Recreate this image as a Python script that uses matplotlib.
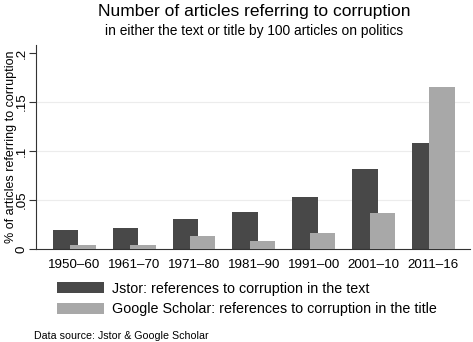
import matplotlib
matplotlib.use("Agg")
import matplotlib.pyplot as plt
import numpy as np

plt.rcParams['font.family'] = ['Liberation Sans', 'DejaVu Sans']

# data
periods = ['1950\u201360', '1961\u201370', '1971\u201380', '1981\u201390',
           '1991\u201300', '2001\u201310', '2011\u201316']
jstor = [0.019, 0.021, 0.0306, 0.0374, 0.053, 0.0813, 0.1078]
scholar = [0.0044, 0.0044, 0.013, 0.0085, 0.0163, 0.0367, 0.165]
yticks = [0, 0.05, 0.1, 0.15, 0.2]
ytick_labels = ['0', '.05', '.1', '.15', '.2']

dark = '#484848'
light = '#a8a8a8'

fig = plt.figure(figsize=(4.73, 3.42), dpi=100)
ax = fig.add_axes([0.0755, 0.272, 0.918, 0.596])

x = np.arange(len(periods))
w = 0.425
off = 0.145
b1 = ax.bar(x - off, jstor, w, color=dark, zorder=2,
            label='Jstor: references to corruption in the text')
b2 = ax.bar(x + off, scholar, w, color=light, zorder=3,
            label='Google Scholar: references to corruption in the title')

ax.set_xlim(-0.645, 6.61)
ax.set_ylim(0, 0.208)
ax.set_xticks(x)
ax.set_xticklabels(periods, fontsize=9.6)
ax.tick_params(axis='x', length=0, pad=7)
ax.set_yticks(yticks)
ax.set_yticklabels(ytick_labels, rotation=90, va='center', fontsize=9.6)
ax.tick_params(axis='y', length=5, width=0.8, color='#333333', pad=1)
for g in [0.05, 0.1, 0.15]:
    ax.axhline(g, color='#ececec', lw=0.8, zorder=0)

for s in ['top', 'right']:
    ax.spines[s].set_visible(False)
ax.spines['left'].set_color('#333333')
ax.spines['bottom'].set_color('#333333')
ax.spines['left'].set_linewidth(0.8)
ax.spines['bottom'].set_linewidth(0.8)

ax.set_ylabel('% of articles referring to corruption', fontsize=9.0, labelpad=-1)

fig.text(0.538, 0.953, 'Number of articles referring to corruption',
         ha='center', va='baseline', fontsize=12.5)
fig.text(0.538, 0.897, 'in either the text or title by 100 articles on politics',
         ha='center', va='baseline', fontsize=9.9)

fig.legend(handles=[b1, b2], loc='upper left', bbox_to_anchor=(0.121, 0.176),
           frameon=False, fontsize=10.3, handlelength=3.3, handleheight=0.82,
           handletextpad=0.55, labelspacing=0.45, borderaxespad=0, borderpad=0)

fig.text(0.0725, 0.01, 'Data source: Jstor & Google Scholar', fontsize=7.7,
         ha='left', va='baseline')

plt.savefig('out.png', dpi=100)
